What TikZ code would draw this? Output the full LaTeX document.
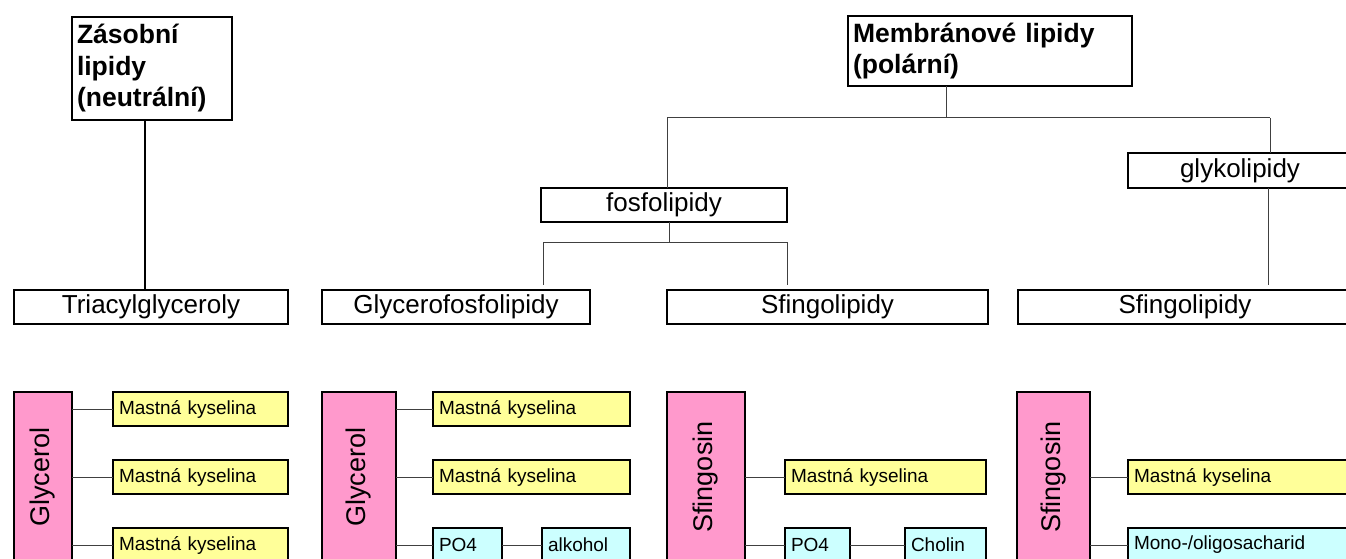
\documentclass[tikz,border=0pt]{standalone}
\usepackage{fontspec}
\setmainfont{Liberation Sans}
\usepackage{xcolor}
\usepackage{tikz}
\usetikzlibrary{positioning}

\definecolor{lipink}{HTML}{FF99CC}
\definecolor{liyellow}{HTML}{FFFF99}
\definecolor{licyan}{HTML}{CCFFFF}

\tikzset{
  box/.style={draw, line width=2.5pt, inner sep=0pt, outer sep=0pt, anchor=north west},
  head/.style={box, align=left, inner xsep=5pt, font=\bfseries\fontsize{26.5}{31.5}\selectfont},
  cls/.style={box, minimum height=34pt, font=\fontsize{26}{30}\selectfont},
  part/.style={box, minimum height=34pt, align=left, inner xsep=6pt, font=\fontsize{19}{22}\selectfont},
  fat/.style={part, fill=liyellow},
  polar/.style={part, fill=licyan},
  base/.style={box, fill=lipink, minimum height=170pt, font=\fontsize{27}{30}\selectfont},
  tree/.style={line width=1.2pt},
  link/.style={line width=1pt, black!75}
}

\begin{document}
\begin{tikzpicture}[x=1pt, y=-1pt]
        \useasboundingbox (0,0) rectangle (1346,559);
        \clip (0,0) rectangle (1346,559);

        % top level
        \node[head, minimum width=160pt, minimum height=103pt, text width=150pt] (zas) at (72,17) {Zásobní\\lipidy\\(neutrální)};
        \node[head, minimum width=284pt, minimum height=70pt, text width=274pt] (mem) at (848,16) {Membránové lipidy\\(polární)};
        \node[cls, minimum width=246pt] (fos) at (541,188) {fosfolipidy};
        \node[cls, minimum width=224pt, minimum height=35pt] (gko) at (1128,153) {glykolipidy};

        % classes
        \node[cls, minimum width=274pt] (tri) at (14,290) {Triacylglyceroly};
        \node[cls, minimum width=268pt] (gfl) at (322,290) {Glycerofosfolipidy};
        \node[cls, minimum width=321pt] (sfa) at (667,290) {Sfingolipidy};
        \node[cls, minimum width=334pt] (sfb) at (1018,290) {Sfingolipidy};

        % building blocks
        \node[base, minimum width=58pt] (gly1) at (14,392) {\rotatebox{90}{Glycerol}};
        \node[fat, minimum width=175pt, text width=163pt] (fa11) at (113,392) {Mastná kyselina};
        \node[fat, minimum width=175pt, text width=163pt] (fa12) at (113,460) {Mastná kyselina};
        \node[fat, minimum width=175pt, text width=163pt] (fa13) at (113,528) {Mastná kyselina};

        \node[base, minimum width=74pt] (gly2) at (322,392) {\rotatebox{90}{Glycerol}};
        \node[fat, minimum width=197pt, text width=185pt] (fa21) at (433,392) {Mastná kyselina};
        \node[fat, minimum width=197pt, text width=185pt] (fa22) at (433,460) {Mastná kyselina};
        \node[polar, minimum width=69pt, text width=57pt] (po2) at (433,528) {PO4};
        \node[polar, minimum width=88pt, text width=76pt] (alk) at (542,528) {alkohol};

        \node[base, minimum width=78pt] (sfn3) at (667,392) {\rotatebox{90}{Sfingosin}};
        \node[fat, minimum width=201pt, text width=189pt] (fa31) at (785,460) {Mastná kyselina};
        \node[polar, minimum width=65pt, text width=53pt] (po3) at (785,528) {PO4};
        \node[polar, minimum width=81pt, text width=69pt] (chol) at (905,528) {Cholin};

        \node[base, minimum width=73pt] (sfn4) at (1017,392) {\rotatebox{90}{Sfingosin}};
        \node[fat, minimum width=230pt, text width=218pt] (fa41) at (1128,460) {Mastná kyselina};
        \node[polar, minimum width=230pt, text width=218pt] (sach) at (1128,528) {Mono-/oligosacharid};

        % tree joints
        \coordinate (mbus) at (946,118);
        \coordinate (mleft) at (667,118);
        \coordinate (mright) at (1270,118);
        \coordinate (fbus) at (669,242);
        \coordinate (fleft) at (543,242);
        \coordinate (fright) at (787,242);
        \coordinate (gend) at (1268,285);

        \draw[tree] (zas.south -| 145,0) -- (tri.north -| 145,0);
        \draw[link] (mem.south -| mbus) -- (mbus);
        \draw[link] (mleft) -- (mright);
        \draw[link] (mleft) -- (fos.north -| mleft);
        \draw[link] (mright) -- (gko.north -| mright);
        \draw[link] (fos.south -| fbus) -- (fbus);
        \draw[link] (fleft) -- (fright);
        \draw[link] (fleft) -- ++(0,43);
        \draw[link] (fright) -- ++(0,43);
        \draw[link] (gko.south -| gend) -- (gend);

        \draw[link] (gly1.east |- fa11.west) -- (fa11.west);
        \draw[link] (gly1.east |- fa12.west) -- (fa12.west);
        \draw[link] (gly1.east |- fa13.west) -- (fa13.west);
        \draw[link] (gly2.east |- fa21.west) -- (fa21.west);
        \draw[link] (gly2.east |- fa22.west) -- (fa22.west);
        \draw[link] (gly2.east |- po2.west) -- (po2.west);
        \draw[link] (po2.east) -- (alk.west);
        \draw[link] (sfn3.east |- fa31.west) -- (fa31.west);
        \draw[link] (sfn3.east |- po3.west) -- (po3.west);
        \draw[link] (po3.east) -- (chol.west);
        \draw[link] (sfn4.east |- fa41.west) -- (fa41.west);
        \draw[link] (sfn4.east |- sach.west) -- (sach.west);
\end{tikzpicture}
\end{document}
